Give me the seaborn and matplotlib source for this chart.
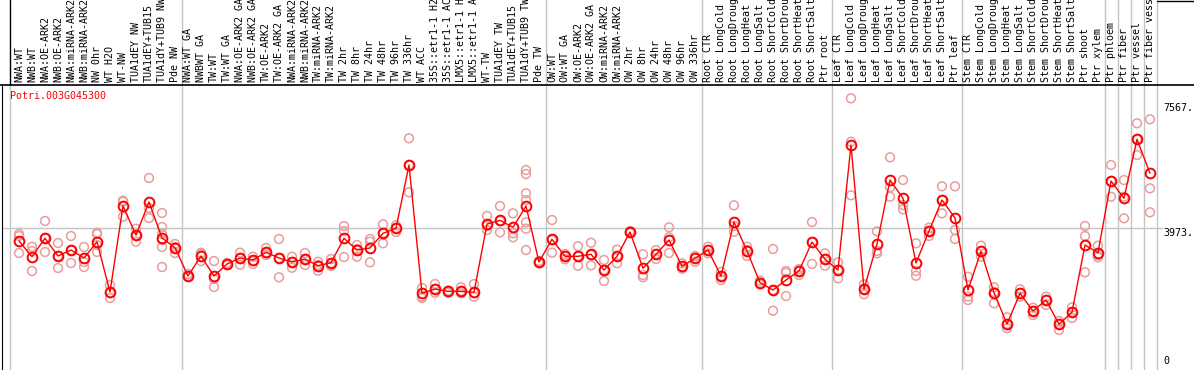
import matplotlib
matplotlib.use("Agg")
import matplotlib.pyplot as plt
from matplotlib.lines import Line2D
from matplotlib.transforms import blended_transform_factory
import pandas as pd
import seaborn as sns

# sample names (as shown, truncated where the picture cuts them)
samples = [
    "NWA:WT", "NWB:WT", "NWA:OE-ARK2", "NWB:OE-ARK2", "NWA:miRNA-ARK2", "NWB:miRNA-ARK2",
    "NW 0hr", "WT H2O", "WT-NW", "TUA1dEY NW", "TUA1dEY+TUB15", "TUA1dY+TUB9 NW", "Pde NW",
    "NWA:WT GA", "NWBWT GA", "TW:WT", "TW:WT GA", "NWA:OE-ARK2 GA", "NWB:OE-ARK2 GA",
    "TW:OE-ARK2", "TW:OE-ARK2 GA", "NWA:miRNA-ARK2", "NWB:miRNA-ARK2", "TW:miRNA-ARK2",
    "TW:miRNA-ARK2", "TW 2hr", "TW 8hr", "TW 24hr", "TW 48hr", "TW 96hr", "TW 336hr", "WT ACC",
    "35S::etr1-1 H2", "35S::etr1-1 AC", "LMX5::etr1-1 H", "LMX5::etr1-1 A", "WT-TW",
    "TUA1dEY TW", "TUA1dEY+TUB15", "TUA1dY+TUB9 TW", "Pde TW",
    "OW:WT", "OW:WT GA", "OW:OE-ARK2", "OW:OE-ARK2 GA", "OW:miRNA-ARK2", "OW:miRNA-ARK2",
    "OW 2hr", "OW 8hr", "OW 24hr", "OW 48hr", "OW 96hr", "OW 336hr",
    "Root CTR", "Root LongCold", "Root LongDroug", "Root LongHeat", "Root LongSalt",
    "Root ShortCold", "Root ShortDrou", "Root ShortHeat", "Root ShortSalt", "Ptr root",
    "Leaf CTR", "Leaf LongCold", "Leaf LongDroug", "Leaf LongHeat", "Leaf LongSalt",
    "Leaf ShortCold", "Leaf ShortDrou", "Leaf ShortHeat", "Leaf ShortSalt", "Ptr leaf",
    "Stem CTR", "Stem LongCold", "Stem LongDroug", "Stem LongHeat", "Stem LongSalt",
    "Stem ShortCold", "Stem ShortDrou", "Stem ShortHeat", "Stem ShortSalt", "Ptr shoot",
    "Ptr xylem", "Ptr phloem", "Ptr fiber", "Ptr vessel", "Ptr fiber vess",
]

# group boundaries (between sample positions)
separators = [12.5, 40.5, 52.5, 62.5, 72.5, 83.5, 84.5, 85.5, 86.5, 87.5]

means = [
    3596, 3145, 3674, 3165, 3337, 3107, 3576, 2129, 4603, 3769, 4718, 3683, 3403,
    2589, 3165, 2589, 2935, 3107, 3050, 3271, 3107, 2992, 3078, 2886, 2972, 3674,
    3337, 3395, 3818, 3962, 5783, 2092, 2215, 2149, 2149, 2120, 4085, 4192, 3990,
    4603, 2992,
    3645, 3156, 3156, 3214, 2762, 3156, 3855, 2811, 3214, 3625, 2868, 3099,
    3337, 2589, 4143, 3309, 2397, 2187, 2474, 2733, 3567, 3070,
    2762, 6358, 2215, 3510, 5351, 4825, 2963, 3884, 4776, 4258,
    2187, 3300, 2109, 1208, 2092, 1582, 1899, 1200, 1554, 3481, 3260,
    5322, 4825, 6522, 5544,
]

replicates = [
    [3798, 3740, 3251], [3432, 3309, 2733], [4172, 3683, 3280], [3539, 3165, 2819],
    [3740, 3337, 2963], [3424, 2992, 2848], [3835, 3798, 3481, 3280], [2330, 1956, 2100],
    [4756, 4727, 4295], [3950, 3576, 3769], [5409, 4546, 4258],
    [4402, 3999, 3798, 3625, 3424, 2848], [3510, 3251, 3424],
    [2647, 2569, 2589], [3260, 3021, 3222], [3021, 2503, 2273], [2963, 2906, 2935],
    [3260, 2914, 3107], [3145, 2935, 3021], [3395, 3193, 3251], [3654, 2552, 3107],
    [3145, 2828, 2992], [3251, 2906, 3078], [3001, 2742, 2906], [3078, 2877, 2963],
    [4028, 3884, 3136], [3481, 3145, 3366], [3654, 3576, 2983], [4077, 3530, 3827],
    [4048, 3855, 3970], [6551, 4997, 5783], [2244, 1994, 1956], [2359, 2109, 2215],
    [2166, 2109, 2158], [2264, 2092, 2158], [2359, 1994, 2100], [4316, 3913, 4028],
    [4603, 3846, 4172], [4393, 3818, 3703],
    [5639, 5524, 4969, 4776, 4134, 3950, 3337], [2992, 2963, 3021],
    [4200, 3260, 3625], [3222, 3070, 3165], [3444, 2886, 3165], [3547, 2897, 3193],
    [3050, 2445, 2762], [3346, 2955, 3165], [3884, 3827, 3855], [3214, 2618, 2552],
    [3337, 3078, 3222], [3990, 3703, 3251], [2955, 2799, 2848], [3165, 3001, 3107],
    [3432, 3242, 3337], [2704, 2475, 2589], [4623, 3864, 4028], [3432, 3165, 3337],
    [2454, 2350, 2388], [3366, 1591, 2187], [2733, 2684, 2014], [2791, 2618, 2733],
    [4143, 2935, 3567], [3242, 2886, 3078],
    [2983, 2523, 2762], [7702, 6453, 4911], [2350, 2063, 2215], [3875, 3309, 3242],
    [6004, 5141, 4871], [5351, 4632, 4508], [3530, 2733, 2598], [3979, 3740, 3884],
    [5170, 4393, 4776], [5170, 3913, 3654],
    [2569, 1994, 1899], [3461, 3145, 3309], [2264, 1804, 2129], [1401, 1085, 1208],
    [2207, 1994, 2100], [1677, 1467, 1582], [1994, 1755, 1899], [1295, 1036, 1208],
    [1689, 1381, 1554], [4028, 3740, 2696], [3461, 3193, 3127],
    [5783, 4871, 5322], [5351, 4871, 4249], [6983, 6070, 6531], [7098, 5112, 4422],
]

axis_marks = [7567, 3973, 0]
axis_texts = ["7567.", "3973.", "0"]
gene = "Potri.003G045300"

W, H = 1194, 370
sns.set_style("white")
plt.rcParams["font.family"] = ["DejaVu Sans Mono", "DejaVu Sans"]

fig = plt.figure(figsize=(W / 100, H / 100), dpi=100)
fig.patch.set_facecolor("white")
ax = fig.add_axes([2 / W, 0, (1163 - 2) / W, (H - 85) / H])

rep_df = pd.DataFrame(
    [(i, v) for i, reps in enumerate(replicates) for v in reps], columns=["pos", "value"]
)
mean_df = pd.DataFrame({"pos": range(len(means)), "value": means})

grey = "#c4c4c4"
ax.axhline(axis_marks[1], color=grey, lw=1, zorder=0)
trans_fig_y = blended_transform_factory(ax.transData, fig.transFigure)
for s in separators:
    ax.plot([s, s], [0, 1], color=grey, lw=1, transform=trans_fig_y, clip_on=False, zorder=0)
ax.axvline(-0.692, color=grey, lw=1, zorder=0)

sns.scatterplot(data=rep_df, x="pos", y="value", ax=ax, marker="o", s=40,
                facecolors="none", edgecolor="#e89c9c", linewidth=1.1, zorder=2)
sns.lineplot(data=mean_df, x="pos", y="value", ax=ax, color="red", lw=1,
             marker="o", markersize=7, markerfacecolor="none",
             markeredgecolor="red", markeredgewidth=1.4, zorder=3)

ax.set_xlim(-1.3077, 88.0)
ax.set_ylim(-115, 8085)
ax.set_xlabel("")
ax.set_ylabel("")
ax.set_yticks([])
ax.xaxis.tick_top()
ax.set_xticks(range(len(samples)))
ax.set_xticklabels(samples, rotation=90, fontsize=7.2)
ax.tick_params(axis="x", length=0, pad=2, colors="black")
for side in ["right", "bottom"]:
    ax.spines[side].set_visible(False)
ax.spines["left"].set_color("black")
ax.spines["top"].set_visible(False)

ytrans = ax.get_yaxis_transform()
for v, t in zip(axis_marks, axis_texts):
    ax.text(1.0005, v, t, transform=ytrans, ha="left",
            va="bottom" if v == 0 else "top", fontsize=7.2, color="black", clip_on=False)

fig.text(10 / W, 1 - 91 / H, gene, color="red", fontsize=7.2, ha="left", va="top")

# frame lines of the label band
fig.add_artist(Line2D([0, 1], [1 - 85 / H] * 2, color="black", lw=1.2, transform=fig.transFigure))
fig.add_artist(Line2D([10 / W] * 2, [1 - 85 / H, 1], color="black", lw=1, transform=fig.transFigure))
fig.add_artist(Line2D([1157 / W, 1], [1 - 0.5 / H] * 2, color="black", lw=1, transform=fig.transFigure))

fig.savefig("out.png", dpi=100, facecolor="white")
